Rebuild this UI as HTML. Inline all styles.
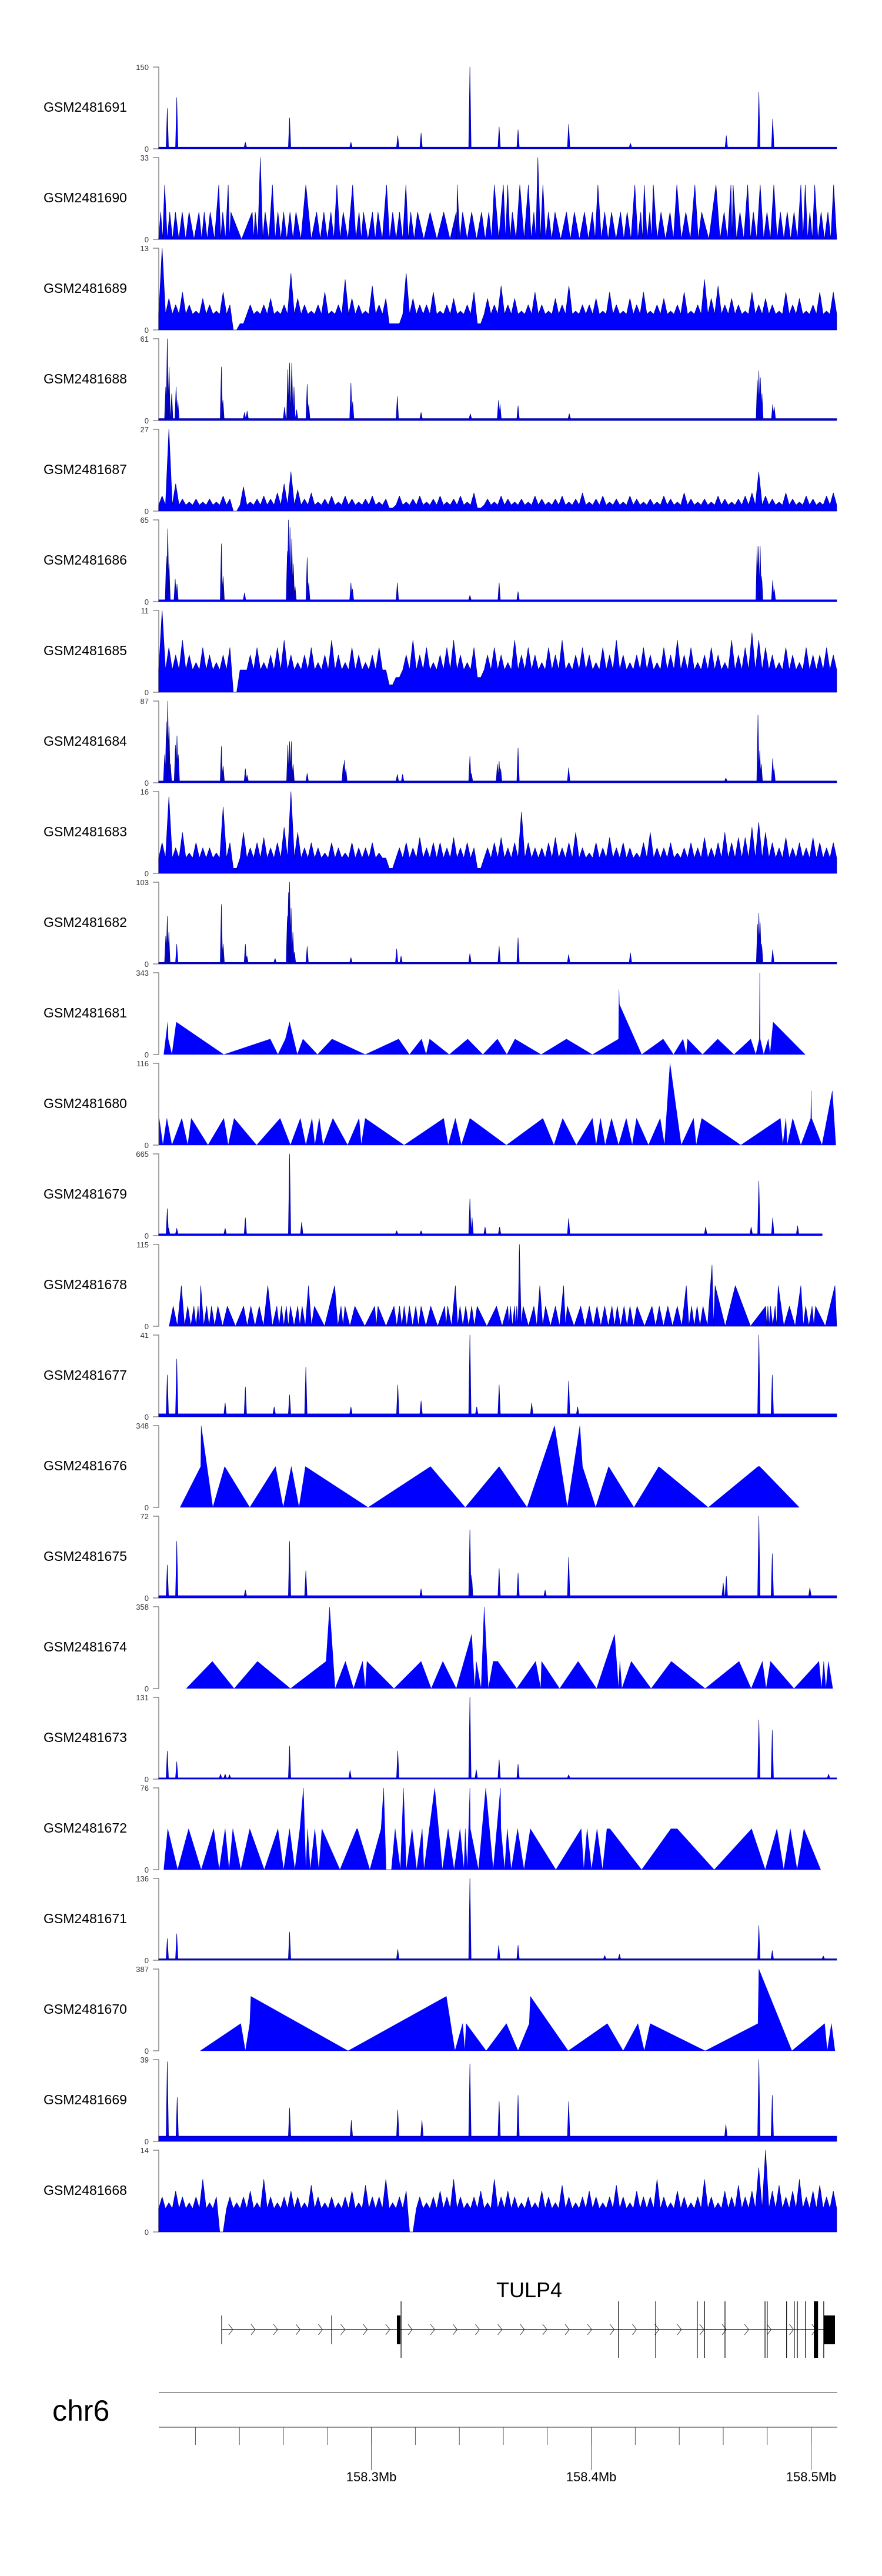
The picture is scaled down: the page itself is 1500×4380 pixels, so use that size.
<!DOCTYPE html>
<html><head><meta charset="utf-8">
<style>
html,body{margin:0;padding:0;background:#fff;}
svg{display:block;}
text{font-family:"Liberation Sans",Arial,sans-serif;}
</style></head>
<body>
<svg id="chart" width="1500" height="4380" viewBox="0 0 1500 4380" xmlns="http://www.w3.org/2000/svg">
  <g id="tracks"></g>
  <g id="gene">
    <text x="900" y="3906" font-size="36" text-anchor="middle">TULP4</text>
  </g>
  <g id="axis">
    <text x="89" y="4116" font-size="50">chr6</text>
  </g>
</svg>
<script>
// ---- sample names, axis maxima, track types ----
const samples = ["GSM2481691","GSM2481690","GSM2481689","GSM2481688","GSM2481687","GSM2481686","GSM2481685","GSM2481684","GSM2481683","GSM2481682","GSM2481681","GSM2481680","GSM2481679","GSM2481678","GSM2481677","GSM2481676","GSM2481675","GSM2481674","GSM2481673","GSM2481672","GSM2481671","GSM2481670","GSM2481669","GSM2481668"];
const maxima = [150,33,13,61,27,65,11,87,16,103,343,116,665,115,41,348,72,358,131,76,136,387,39,14];
const kinds = ["peak","apex","noise","peak","noise","peak","noise","peak","noise","peak","tri","tri","peak","apex","peak","tri","peak","tri","peak","tri","peak","tri","peak","noise"];
const floors = [3,0,2.5,1.5,2,1.5,3,2,3,2,0,0,15,0,1.5,0,2,0,2,0,2.5,0,2.5,4];

// ---- per-track data (positions in kb from 158.2 Mb) ----
const pos1691=[7.2,11.5,42.7,62.8,90.7,112,122.6,144.8,158.1,166.7,189.7,217.8,261.4,276.2,282.5];
const val1691=[74,94,12,57,12,24,29,150,40,35,45,10,24,104,55];
const pos1690=[4.2,6.0,8.3,10.9,14.0,17.1,21.6,24.0,26.7,30.6,32.4,34.9,36.1,45.8,47.2,49.5,51.7,55.0,57.5,60.1,63.0,65.7,70.2,75.1,78.4,81.6,84.3,87.2,91.5,94.4,96.4,100.5,103.0,106.9,109.7,112.8,115.7,117.9,121.0,126.7,132.9,138.6,139.0,141.5,145.6,150.1,153.4,155.9,160.0,162.0,164.1,167.5,171.4,173.9,175.7,178.0,180.5,183.5,188.7,192.3,196.9,200.5,203.0,206.1,209.2,213.3,216.3,219.8,222.5,224.1,226.6,228.2,231.7,235.8,238.9,243.0,247.1,250.2,256.7,260.4,263.5,264.5,267.6,271.1,273.7,276.8,279.9,283.0,286.0,289.1,292.2,295.3,297.3,299.4,301.6,304.5,307.6,310.2];
const val1690=[11,22,11,11,11,11,11,11,11,22,11,22,11,11,11,33,11,22,11,11,11,11,22,11,11,11,22,11,22,11,11,11,11,22,11,11,22,11,11,11,11,11,22,11,11,11,11,22,22,22,11,22,22,11,33,22,11,11,11,11,11,11,22,11,11,11,11,22,11,22,11,22,11,11,22,11,22,11,22,11,22,22,11,22,11,22,11,22,11,11,11,22,22,11,22,11,11,22];
const val1689=[13,5,4,6,4,3,5,4,3,6,4,0,1,4,3,4,5,3,4,9,5,4,3,4,6,3,4,8,5,4,3,7,4,5,1,1,9,5,4,4,6,3,4,5,3,4,6,1,5,4,7,4,5,3,4,6,4,3,5,4,7,3,4,4,5,3,6,4,3,5,4,6,3,4,5,3,4,6,3,4,8,5,7,4,5,4,3,6,4,5,4,3,6,4,5,3,4,6,3,6];
const pos1688=[6.5,7.2,8.0,9.2,11.2,12.0,31.8,32.5,42.3,43.5,60.5,62,62.8,63.8,64.8,66,70.8,71.5,90.7,91.5,111.8,122.6,145,157.8,158.5,166.7,190,275.5,276.2,276.9,277.6,282.5,283.2];
const val1688=[25,61,40,20,25,15,40,15,6,7,10,38,43,43,25,8,27,12,28,14,18,6,5,15,12,11,5,30,37,32,20,12,10];
const val1687=[5,27,9,4,3,4,3,4,3,5,4,0,8,3,4,5,4,6,9,13,7,4,6,3,4,5,3,5,4,3,4,5,3,4,1,5,3,4,5,3,4,5,3,4,5,3,6,1,4,3,5,4,3,4,3,5,4,3,4,5,3,4,6,3,4,5,3,4,3,5,4,3,4,3,5,4,3,6,4,3,4,3,5,4,3,4,5,6,13,5,4,3,6,4,3,5,4,3,5,6];
const pos1686=[6.8,7.4,8.0,10.8,11.6,31.8,32.6,42.3,61.8,62.3,63.0,63.8,64.5,65.3,70.8,71.5,90.7,91.4,111.8,144.8,158.1,166.7,275.4,276,276.8,277.5,282.5,283.2];
const val1686=[36,58,30,18,14,46,20,7,40,65,59,50,30,12,35,15,15,10,15,5,15,8,44,44,44,20,17,10];
const val1685=[11,6,5,7,5,4,6,5,4,5,6,0,3,5,6,4,5,6,7,5,4,5,6,4,5,7,5,4,6,5,4,5,6,3,1,2,5,7,5,6,4,5,6,7,5,4,6,2,5,6,5,4,7,5,6,5,4,6,5,7,4,5,6,5,4,6,5,7,5,4,5,6,5,4,6,5,7,5,6,4,5,6,5,4,7,5,6,8,7,6,5,4,6,5,4,6,5,5,6,5];
const pos1684=[6.0,6.8,7.4,8.0,8.6,10.9,11.6,12.2,31.8,32.6,42.7,43.5,62.0,62.8,63.6,64.4,70.8,87.2,87.7,88.4,111.8,114.2,144.8,145.5,157.3,158.1,158.8,166.7,189.7,261.2,275.8,276.6,277.3,282.5,283.1];
const val1684=[30,65,87,60,20,40,50,30,39,18,15,8,40,44,44,20,10,20,24,15,9,9,28,10,20,23,15,37,16,5,72,34,20,26,15];
const val1683=[6,15,5,8,4,6,5,5,4,13,6,1,8,5,6,7,5,6,9,16,8,5,6,5,4,6,5,4,6,5,5,6,4,3,1,5,6,5,7,5,6,6,5,7,5,6,5,1,5,6,7,5,6,12,6,5,5,6,7,5,6,8,5,4,6,5,7,5,6,5,4,6,8,5,5,6,4,5,6,5,7,5,6,8,6,7,7,9,10,8,6,5,7,5,6,5,7,6,5,6];
const pos1682=[6.5,7.2,7.9,11.5,31.8,32.6,42.7,43.4,56.2,61.8,62.3,62.8,63.5,64.3,65.0,70.8,90.7,111.5,113.5,144.8,158.1,166.7,189.7,217.8,275.6,276.2,276.8,277.5,282.5];
const val1682=[35,60,40,25,75,25,25,10,7,60,90,103,70,40,15,22,8,19,10,13,22,33,12,14,50,64,52,25,18];
const pos1681=[5.6,7.4,7.6,9.3,11.3,32.9,54.0,57.5,60.9,62.8,66.3,68.9,75.5,82.1,97.2,112.4,117.3,122.8,124.9,126.5,135.4,143.8,150.7,157.3,161.6,165.3,177.2,188.7,200.5,212.4,212.6,212.8,222.9,232.7,237.4,241.7,243.2,243.8,250.6,257.5,264.9,272.5,274.8,276.4,276.6,276.8,278.4,280.5,281.3,282.7,297.3];
const val1681=[0,136,65,0,136,0,65,0,65,136,0,65,0,65,0,65,0,65,0,65,0,65,0,65,0,65,0,65,0,65,272,210,0,65,0,65,0,65,0,65,0,65,0,65,343,65,0,65,0,136,0];
const pos1680=[3.5,5.2,7.0,9.3,13.8,16.5,18.1,25.7,32.9,34.9,37.6,47.8,58.5,63.2,67.7,70.2,73.0,74.3,76.3,78.0,82.5,89.2,94.4,95.4,97.2,114.9,132.9,134.9,138.2,140.9,144.8,161.4,178.0,183.0,187.0,193.2,200.5,202.2,204.2,206.3,209.2,212.4,215.9,218.6,220.6,226.0,231.3,233.3,235.8,240.9,246.5,247.7,250.2,268.0,286.0,287.1,288.5,289.1,291.6,295.3,299.8,300.0,300.2,304.9,309.6,311.2];
const val1680=[38,0,38,0,38,0,38,0,38,0,38,0,38,0,38,0,38,0,38,0,38,0,38,0,38,0,38,0,38,0,38,0,38,0,38,0,38,0,38,0,38,0,38,0,38,0,38,0,116,0,38,0,38,0,38,0,38,0,38,0,38,77,38,0,77,0];
const pos1679=[7.2,7.8,11.5,33.5,42.7,62.8,68.3,111.5,122.6,144.8,145.8,151.7,158.3,189.7,252,272.7,276.2,282.5,293.8];
const val1679=[220,60,60,60,145,665,110,40,40,300,145,70,70,140,70,70,445,145,80];
const pos1678=[9.9,13.6,16.5,19.3,21.2,22.4,25.1,27.3,30.2,34.5,41.9,45.2,49.0,52.9,57.0,59.1,61.3,63.2,66.5,68.5,71.4,74.1,83.3,86.2,88.0,92.5,101.5,103.0,110.3,112.8,114.9,117.3,120.2,122.6,127.0,133.3,134.7,138.2,140.3,142.9,145.6,148.1,156.9,162.0,163.2,165.1,166.1,167.3,169.0,173.9,176.6,179.2,183.7,187.4,189.1,195.2,199.1,202.6,206.1,209.4,211.8,214.9,217.6,220.8,227.6,230.9,234.8,239.1,243.2,245.6,248.1,250.8,254.9,256.3,265.5,279.3,280.3,281.5,283.6,285.0,290.1,295.3,297.5,300.4,302.0,310.8];
const val1678=[28,57,28,28,28,57,28,28,28,28,28,28,28,57,28,28,28,28,28,28,57,28,57,28,28,28,28,28,28,28,28,28,28,28,28,28,28,57,28,28,28,28,28,28,28,28,28,115,28,28,57,28,28,57,28,28,28,28,28,28,28,28,28,28,28,28,28,28,57,28,28,28,86,57,57,28,28,28,28,57,28,57,28,28,28,57];
const pos1677=[7.2,11.5,33.5,42.7,55.8,62.8,70.2,90.7,112.0,122.6,144.8,147.9,158.1,172.9,189.7,193.8,276.2,282.3];
const val1677=[21,29,7,15,5,11,25,5,16,8,41,5,16,7,18,5,41,21];
const pos1676=[13.0,22.4,22.6,27.9,33.3,44.7,56.4,59.9,63.6,67.1,70.0,98.5,126.9,142.7,158.1,170.8,183.3,189.1,194.8,196.0,202.0,207.9,219.4,230.7,253.2,275.8,276.6,294.6];
const val1676=[0,174,348,0,174,0,174,0,174,0,174,0,174,0,174,0,348,0,348,174,0,174,0,174,0,174,174,0];
const pos1675=[7.2,11.5,42.7,62.8,70.2,122.6,144.8,145.6,158.1,166.7,179.0,189.7,260.0,261.4,276.2,282.3,299.4];
const val1675=[29,50,7,50,24,8,60,20,26,22,7,36,13,19,72,39,9];
const pos1674=[15.8,27.7,37.6,48.2,63.2,79.4,81.0,83.5,88.2,91.9,96.0,97.2,98.0,110.3,122.6,127.2,132.5,138.6,145.6,147.0,147.7,149.9,151.3,153.2,155.4,157.5,166.1,174.7,177.0,177.4,185.6,194.0,202.4,210.6,212.4,213.0,213.9,218.2,227.2,236.4,251.8,267.2,272.7,277.8,279.5,281.5,292.2,303.5,304.7,305.7,306.7,307.8,309.8];
const val1674=[0,119,0,119,0,119,358,0,119,0,119,0,119,0,119,0,119,0,237,0,119,0,358,0,119,119,0,119,0,119,0,119,0,237,0,119,0,119,0,119,0,119,0,119,0,119,0,119,0,119,0,119,0];
const pos1673=[7.2,11.5,31.4,33.5,35.5,62.8,90.3,112,144.8,147.7,158.1,166.7,189.7,276.2,282.3,307.9];
const val1673=[45,28,8,8,7,53,14,45,131,15,31,24,7,95,78,8];
const pos1672=[5.6,7.4,11.9,16.9,22.6,28.3,30.8,33.5,35.3,37.0,40.6,44.7,51.3,57.5,60.1,62.8,65.2,67.5,69.1,70.2,71.0,72.2,74.3,76.1,77.5,85.7,93.3,93.7,99.3,104.4,105.6,106.7,109.1,110.8,113.2,114.6,115.9,118.5,120.6,123.1,123.9,128.8,132.3,134.9,137.6,140.3,142.1,142.7,143.6,144.8,145.0,148.7,152.0,155.4,158.7,158.9,160.6,161.8,163.6,166.5,169.4,172.3,183.9,195.4,196.6,198.1,200.1,202.6,205.1,207.1,208.5,222.9,236.2,239.1,255.9,272.9,279.1,284.4,287.5,290.5,293.6,296.7,304.3];
const val1672=[0,38,0,38,0,38,0,38,0,38,0,38,0,38,0,38,0,38,76,0,38,0,38,0,38,0,38,38,0,38,76,0,0,38,0,76,0,38,0,38,0,76,0,38,0,38,0,38,0,76,38,0,76,0,76,38,0,38,0,38,0,38,0,38,0,38,0,38,0,38,38,0,38,38,0,38,0,38,0,38,0,38,0];
const pos1671=[7.2,11.5,62.8,112,144.8,157.9,166.7,206.1,212.8,276.2,282.3,305.5];
const val1671=[36,44,47,18,136,25,25,8,10,58,16,7];
const pos1670=[22.2,40.6,42.7,44.7,45.2,89.4,134.1,138.0,141.5,142.5,143.1,152.2,161.4,166.7,171.8,172.3,189.5,207.3,214.5,221.2,224.1,226.8,251.8,275.8,276.2,291.2,306.1,307.3,309.2,310.8];
const val1670=[0,129,0,129,258,0,258,0,129,0,129,0,129,0,129,258,0,129,0,129,0,129,0,129,387,0,129,0,129,0];
const pos1669=[7.2,11.7,62.8,90.9,112,123,144.8,158.1,166.7,189.7,261.2,276.2,282.3];
const val1669=[38,21,16,10,15,10,37,19,22,19,8,39,22];
const val1668=[6,5,7,6,5,6,9,5,6,0,6,5,6,7,5,9,6,5,6,7,6,5,8,6,5,6,5,6,7,5,8,6,6,9,5,6,7,0,6,5,6,7,6,9,6,5,6,7,5,9,6,7,6,5,6,5,7,6,5,8,6,5,6,7,6,5,6,8,6,5,7,6,6,9,6,5,7,6,5,6,9,6,5,7,6,8,6,7,11,14,7,8,6,7,9,6,7,8,6,7];

const trackPos = [pos1691,pos1690,null,pos1688,null,pos1686,null,pos1684,null,pos1682,pos1681,pos1680,pos1679,pos1678,pos1677,pos1676,pos1675,pos1674,pos1673,pos1672,pos1671,pos1670,pos1669,null];
const trackVal = [val1691,val1690,val1689,val1688,val1687,val1686,val1685,val1684,val1683,val1682,val1681,val1680,val1679,val1678,val1677,val1676,val1675,val1674,val1673,val1672,val1671,val1670,val1669,val1668];

// ---- gene model (kb from 158.2 Mb) ----
const geneStart = 31.9, geneEnd = 310.8;
const exonLines = [113.5,212.4,229.3,248.2,251.5,260.8,279.0,280.0,288.8,292.3,293.7,297.4,305.7];
const smallMarks = [31.9,81.9];
const thickStarts = [111.6,301.2,305.7];
const thickEnds = [113.2,303.1,310.8];
const thickTall = [false,true,false];
// ---- genome axis ----
const majorTicks = [158.3,158.4,158.5];
const majorLabels = ["158.3Mb","158.4Mb","158.5Mb"];
const minorStepKb = 20;

// ---- scales ----
const KB0 = 3.3, KB1 = 311.6;
function X(kb){ return 631.6 + (kb - 100) * 3.74; }
const NS = "http://www.w3.org/2000/svg";
function el(tag, attrs, parent){ const e=document.createElementNS(NS,tag); for(const k in attrs) e.setAttribute(k,attrs[k]); parent.appendChild(e); return e; }

const tracksG = document.getElementById('tracks');
samples.forEach((name, i) => {
  const top = 114 + i*154, H = 139, base = top + H, mx = maxima[i];
  const Y = v => base - Math.min(v, mx) / mx * H;
  const g = el('g', {}, tracksG);
  
  
  const lab = el('text', {x:74, y:top+76, 'font-size':23}, g);
  lab.textContent = name;
  
  
  const ax = el('path', {d:`M260 ${top}H270V${base}H260`, fill:'none', stroke:'#888', 'stroke-width':1.5}, g);
  
  
  const tmax = el('text', {x:253, y:top+5, 'font-size':13, 'text-anchor':'end', fill:'#333'}, g);
  tmax.textContent = String(mx);
  
  
  const t0 = el('text', {x:253, y:base+5, 'font-size':13, 'text-anchor':'end', fill:'#333'}, g);
  t0.textContent = "0";
  
  

  const kind = kinds[i], P = trackPos[i], V = trackVal[i], fl = floors[i];
  let d = '';
  if (kind === 'peak') {
    const end = (i === 12) ? 305 : KB1;
    d += `M${X(KB0)} ${base}L${X(KB0)} ${Y(fl)}L${X(end)} ${Y(fl)}L${X(end)} ${base}Z`;
    P.forEach((p, j) => { d += `M${X(p-0.55)} ${Y(fl)}L${X(p)} ${Y(V[j])}L${X(p+0.55)} ${Y(fl)}Z`; });
  } else if (kind === 'noise') {
    const n = V.length, bw = (KB1-KB0)/n;
    d += `M${X(KB0)} ${base}`;
    V.forEach((v, j) => { d += `L${X(KB0+j*bw)} ${Y(Math.min(fl,v))}L${X(KB0+(j+0.5)*bw)} ${Y(v)}`; });
    d += `L${X(KB1)} ${Y(fl)}L${X(KB1)} ${base}Z`;
  } else if (kind === 'apex') {
    d += `M${X(P[0]-Math.min(3,(P[1]-P[0])/2))} ${base}`;
    P.forEach((p, j) => {
      d += `L${X(p)} ${Y(V[j])}`;
      if (j < P.length-1) d += `L${X((p+P[j+1])/2)} ${base}`;
    });
    d += `L${X(Math.min(KB1, P[P.length-1]+2))} ${base}Z`;
  } else {
    d += `M${X(P[0])} ${base}`;
    P.forEach((p, j) => { d += `L${X(p)} ${Y(V[j])}`; });
    d += `L${X(P[P.length-1])} ${base}Z`;
  }
  const area = el('path', {d, fill:'#0000ff', stroke: kind==='tri' ? '#0000ee' : '#00008b', 'stroke-width': kind==='tri' ? 0.4 : 0.7, 'stroke-linejoin':'round'}, g);
  
  
});

// ---- gene model ----
const geneG = document.getElementById('gene');
const gy = 3961;
const backbone = el('line', {x1:X(geneStart), y1:gy, x2:X(geneEnd), y2:gy, stroke:'#333', 'stroke-width':1.5}, geneG);


for (let kb = geneStart + 4; kb < geneEnd - 3; kb += 10.2) {
  const cx = X(kb);
  const ch = el('path', {d:`M${cx-3} ${gy-9}L${cx+4} ${gy}L${cx-3} ${gy+9}`, fill:'none', stroke:'#333', 'stroke-width':1}, geneG);
  
  
}
smallMarks.forEach(kb => {
  const m = el('line', {x1:X(kb), y1:3937, x2:X(kb), y2:3986, stroke:'#000', 'stroke-width':1}, geneG);
  
  
});
exonLines.forEach(kb => {
  const m = el('line', {x1:X(kb), y1:3913, x2:X(kb), y2:4009, stroke:'#000', 'stroke-width':1.2}, geneG);
  
  
});
thickStarts.forEach((s, j) => {
  const tall = thickTall[j];
  const r = el('rect', {x:X(s), y: tall?3913:3937, width:X(thickEnds[j])-X(s), height: tall?96:49, fill:'#000'}, geneG);
  
  
});

// ---- genome axis ----
const axisG = document.getElementById('axis');
const l1 = el('line', {x1:270, y1:4068, x2:1424, y2:4068, stroke:'#999', 'stroke-width':2}, axisG);


const l2 = el('line', {x1:270, y1:4127, x2:1424, y2:4127, stroke:'#999', 'stroke-width':2}, axisG);


for (let kb = 20; kb <= KB1; kb += minorStepKb) {
  const t = el('line', {x1:X(kb), y1:4127, x2:X(kb), y2:4157, stroke:'#555', 'stroke-width':1}, axisG);
  
  
}
majorTicks.forEach((mb, j) => {
  const kb = (mb - 158.2) * 1000;
  const t = el('line', {x1:X(kb), y1:4127, x2:X(kb), y2:4200, stroke:'#555', 'stroke-width':1}, axisG);
  
  
  const lb = el('text', {x:X(kb), y:4219, 'font-size':22, 'text-anchor':'middle'}, axisG);
  lb.textContent = majorLabels[j];
  
  
});
</script>
</body></html>
